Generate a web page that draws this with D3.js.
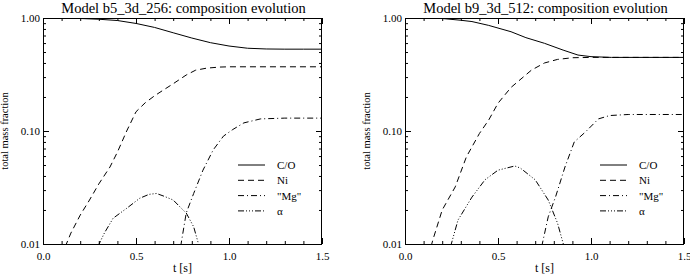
<!DOCTYPE html>
<html>
<head>
<meta charset="utf-8">
<script src="https://cdn.jsdelivr.net/npm/d3@7"></script>
<style>
  html, body { margin: 0; padding: 0; background: #fff; }
  svg { display: block; }
  text { font-family: "Liberation Serif", "DejaVu Serif", serif; fill: #000; }
</style>
</head>
<body>
<svg id="chart" width="690" height="275"></svg>
<script>
// ---------- data ----------
const titles = ["Model b5_3d_256: composition evolution", "Model b9_3d_512: composition evolution"];
const seriesNames = ["C/O", "Ni", "\"Mg\"", "\u03b1"];
const xTicks = [0, 0.5, 1.0, 1.5];
const xMinorTicks = [0.1, 0.2, 0.3, 0.4, 0.6, 0.7, 0.8, 0.9, 1.1, 1.2, 1.3, 1.4];
const yTicks = [1, 0.1, 0.01];
const yTickLabels = ["1.00", "0.10", "0.01"];

// Left panel: b5_3d_256
const tCO_L = [0, 0.1, 0.2, 0.3, 0.4, 0.5, 0.6, 0.7, 0.8, 0.9, 1.0, 1.1, 1.2, 1.3, 1.4, 1.5];
const vCO_L = [1.0, 1.0, 0.99, 0.975, 0.95, 0.895, 0.825, 0.74, 0.665, 0.605, 0.565, 0.54, 0.532, 0.53, 0.53, 0.53];
const tNi_L = [0.12, 0.15, 0.2, 0.25, 0.3, 0.36, 0.4, 0.45, 0.5, 0.55, 0.6, 0.65, 0.7, 0.77, 0.82, 0.88, 0.95, 1.0, 1.5];
const vNi_L = [0.0095, 0.0125, 0.018, 0.0245, 0.034, 0.048, 0.065, 0.1, 0.148, 0.178, 0.205, 0.232, 0.262, 0.313, 0.345, 0.36, 0.368, 0.37, 0.37];
const tMg_L = [0.74, 0.77, 0.81, 0.86, 0.915, 0.97, 1.02, 1.08, 1.17, 1.3, 1.5];
const vMg_L = [0.0095, 0.0188, 0.028, 0.045, 0.068, 0.09, 0.103, 0.118, 0.128, 0.13, 0.13];
const tAl_L = [0.295, 0.33, 0.377, 0.45, 0.52, 0.57, 0.61, 0.65, 0.70, 0.74, 0.77, 0.81, 0.84];
const vAl_L = [0.0095, 0.0125, 0.0169, 0.0207, 0.0254, 0.0275, 0.028, 0.0265, 0.0245, 0.021, 0.0188, 0.0142, 0.0095];

// Right panel: b9_3d_512
const tCO_R = [0, 0.1, 0.2, 0.3, 0.36, 0.45, 0.57, 0.65, 0.75, 0.85, 0.93, 1.0, 1.11, 1.5];
const vCO_R = [1.0, 1.0, 0.99, 0.955, 0.93, 0.86, 0.756, 0.67, 0.597, 0.52, 0.47, 0.455, 0.448, 0.448];
const tNi_R = [0.14, 0.15, 0.2, 0.27, 0.33, 0.40, 0.45, 0.5, 0.57, 0.68, 0.75, 0.82, 0.9, 1.0, 1.5];
const vNi_R = [0.0095, 0.0109, 0.02, 0.032, 0.059, 0.095, 0.125, 0.176, 0.243, 0.346, 0.40, 0.43, 0.445, 0.448, 0.448];
const tMg_R = [0.735, 0.77, 0.81, 0.86, 0.91, 0.97, 1.04, 1.1, 1.2, 1.5];
const vMg_R = [0.0095, 0.0174, 0.0263, 0.048, 0.08, 0.098, 0.128, 0.137, 0.14, 0.14];
const tAl_R = [0.245, 0.285, 0.36, 0.43, 0.5, 0.59, 0.62, 0.70, 0.77, 0.82, 0.855];
const vAl_R = [0.0095, 0.0163, 0.026, 0.037, 0.045, 0.049, 0.047, 0.037, 0.0245, 0.0153, 0.0095];

const panelData = [
  [[tCO_L, vCO_L], [tNi_L, vNi_L], [tMg_L, vMg_L], [tAl_L, vAl_L]],
  [[tCO_R, vCO_R], [tNi_R, vNi_R], [tMg_R, vMg_R], [tAl_R, vAl_R]]
];

// ---------- drawing ----------
(function () {
const dashes = [null, "6,4", "6,3,1,3", "6,2,1,2,1,2,1,2"];
const svg = d3.select("#chart");
const panelLeft = [43, 405];
const W = 279, yTop = 18, yBot = 244;

panelLeft.forEach((x0, pi) => {
  const x = d3.scaleLinear().domain([0, 1.5]).range([x0, x0 + W]);
  const y = d3.scaleLog().domain([0.01, 1]).range([yBot, yTop]);
  const g = svg.append("g");

  const cid = "clip" + pi;
  svg.append("clipPath").attr("id", cid).append("rect")
    .attr("x", x0).attr("y", yTop).attr("width", W).attr("height", yBot - yTop);

  const yMinor = [];
  [0.01, 0.1].forEach(d => { for (let k = 2; k <= 9; k++) yMinor.push(d * k); });

  const axB = d3.axisBottom(x).tickValues(xTicks).tickSizeInner(-6).tickSizeOuter(0).tickPadding(8).tickFormat(d3.format(".1f"));
  const axBm = d3.axisBottom(x).tickValues(xMinorTicks).tickSizeInner(-3).tickSizeOuter(0).tickFormat("");
  const axT = d3.axisTop(x).tickValues(xTicks).tickSizeInner(-6).tickSizeOuter(0).tickFormat("");
  const axTm = d3.axisTop(x).tickValues(xMinorTicks).tickSizeInner(-3).tickSizeOuter(0).tickFormat("");
  const axL = d3.axisLeft(y).tickValues(yTicks).tickSizeInner(-6).tickSizeOuter(0).tickPadding(3).tickFormat((d, i) => yTickLabels[i]);
  const axLm = d3.axisLeft(y).tickValues(yMinor).tickSizeInner(-3).tickSizeOuter(0).tickFormat("");
  const axR = d3.axisRight(y).tickValues(yTicks).tickSizeInner(-6).tickSizeOuter(0).tickFormat("");
  const axRm = d3.axisRight(y).tickValues(yMinor).tickSizeInner(-3).tickSizeOuter(0).tickFormat("");

  const put = (ax, tr) => {
    const a = g.append("g").attr("transform", tr).call(ax);
    a.select(".domain").remove();
    a.selectAll("line").attr("stroke", "#000").attr("stroke-width", 1);
    a.selectAll("text").attr("font-family", "Liberation Serif").attr("font-size", 11);
    return a;
  };
  put(axB, `translate(0,${yBot})`);
  put(axBm, `translate(0,${yBot})`);
  put(axT, `translate(0,${yTop})`);
  put(axTm, `translate(0,${yTop})`);
  put(axL, `translate(${x0},0)`);
  put(axLm, `translate(${x0},0)`);
  put(axR, `translate(${x0 + W},0)`);
  put(axRm, `translate(${x0 + W},0)`);

  g.append("rect").attr("x", x0 + 0.5).attr("y", yTop + 0.5).attr("width", W - 1).attr("height", yBot - yTop)
    .attr("fill", "none").attr("stroke", "#000").attr("stroke-width", 1);

  const line = d3.line().x(d => x(d[0])).y(d => y(d[1]));
  panelData[pi].forEach((s, si) => {
    const pts = s[0].map((t, i) => [t, s[1][i]]);
    g.append("path").datum(pts)
      .attr("clip-path", `url(#${cid})`)
      .attr("d", line)
      .attr("fill", "none")
      .attr("stroke", "#000")
      .attr("stroke-width", 1)
      .attr("stroke-dasharray", dashes[si]);
  });

  g.append("text").attr("x", x0 + W / 2 + 1).attr("y", 13).attr("text-anchor", "middle")
    .attr("font-size", 14.5).text(titles[pi]);
  g.append("text").attr("x", x0 + W / 2).attr("y", 272).attr("text-anchor", "middle")
    .attr("font-size", 12).text("t [s]");
  g.append("text").attr("transform", `translate(${x0 - 35},${(yTop + yBot) / 2}) rotate(-90)`)
    .attr("text-anchor", "middle").attr("font-size", 10.5).text("total mass fraction");

  const lx = x0 + 195;
  seriesNames.forEach((nm, si) => {
    const ly = 165 + si * 15.3;
    g.append("line").attr("x1", lx).attr("x2", lx + 27).attr("y1", ly).attr("y2", ly)
      .attr("stroke", "#000").attr("stroke-width", 1).attr("stroke-dasharray", dashes[si]);
    g.append("text").attr("x", lx + 39).attr("y", ly + 4).attr("font-size", 11).text(nm);
  });
});
})();
</script>
</body>
</html>
